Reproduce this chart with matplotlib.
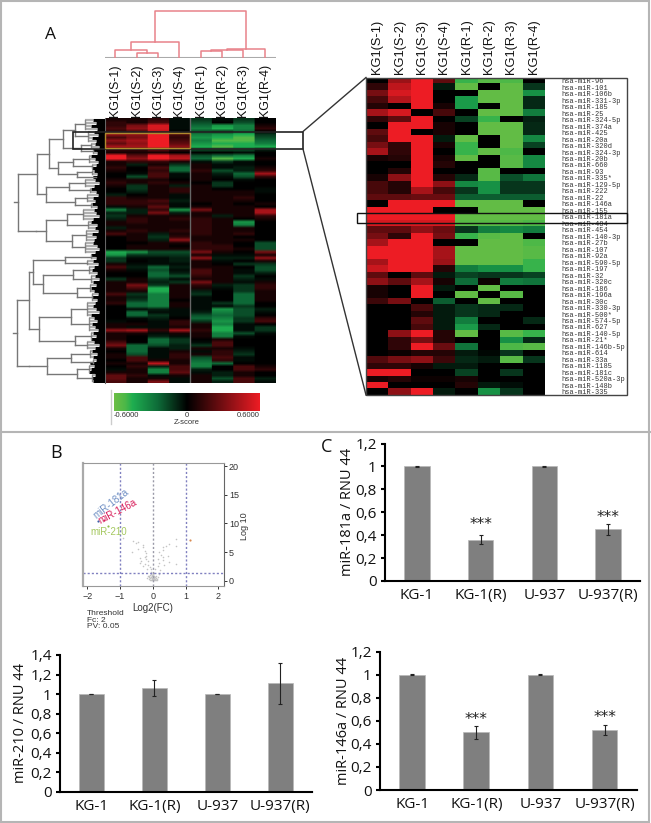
import numpy as np
import matplotlib
matplotlib.use('Agg')
import matplotlib.pyplot as plt
from matplotlib.colors import LinearSegmentedColormap
from matplotlib.patches import Rectangle

W, H = 651, 823

col_labels = ['KG1(S-1)', 'KG1(S-2)', 'KG1(S-3)', 'KG1(S-4)', 'KG1(R-1)', 'KG1(R-2)', 'KG1(R-3)', 'KG1(R-4)']

# heatmap values in tenths of the z-score range, read row by row
main_rows = [
    [1, 1, 2, -1, -3, -1, -3, 0], [2, 1, 3, -1, -4, 0, -4, 0], [2, 5, 9, -1, -5, -7, -6, 1],
    [3, 6, 9, -1, -6, -8, -6, 2], [2, 3, 8, 0, -4, -3, -5, 0], [6, 6, 10, 3, -6, -7, -8, -3],
    [3, 5, 10, 2, -7, -8, -9, -4], [6, 7, 10, 3, -6, -9, -9, -5], [4, 6, 10, 4, -7, -8, -8, -6],
    [7, 7, 10, 6, -8, -9, -8, -8], [2, 2, 4, 2, -4, -4, -4, -2], [1, 1, 1, 0, 0, 0, -1, 0],
    [10, 4, 10, 7, -4, -5, -6, 0], [10, 6, 10, 8, -5, -9, -8, 1], [1, 2, 2, 1, -1, -3, -1, 0],
    [1, -2, 1, -3, 1, -1, -1, 0], [2, 0, 3, -5, 1, -1, -2, 1], [1, 0, 2, -5, 2, -4, -2, 2],
    [0, -1, 3, -1, 1, -2, -5, 7], [0, -4, 3, -1, 1, -1, -4, 2], [1, 1, 1, 0, 1, 0, -1, 0],
    [2, 1, 2, 1, 0, -3, 0, 0], [1, -3, 1, -2, 1, -3, 0, 0], [0, -3, 1, 2, 1, 0, 0, -1],
    [0, -2, 1, 2, 1, 1, 1, -1], [-2, 0, 1, -1, 1, 1, 1, 0], [2, 1, 1, -1, 1, 1, 2, 0],
    [2, 2, 3, -2, 1, 1, 1, 0], [2, 2, 2, -1, 0, 1, 0, 1], [-1, 1, 4, -1, 1, 1, 1, 0],
    [-6, -2, 2, -7, 5, 1, 1, 7], [-2, -2, 5, -2, 1, 1, 1, 7], [-3, 1, 1, 1, 1, -2, 1, 2],
    [-2, 2, 1, 2, 2, 1, 0, 1], [1, 2, 1, 1, 2, 1, -7, 0], [1, 1, 1, 1, 2, 1, -6, 0],
    [-2, 1, 1, 1, 2, 1, 1, 0], [1, 2, 1, 2, 2, 1, 1, 0], [3, 1, -2, 1, 2, 1, 2, 0],
    [0, 1, -3, 2, 1, 1, 0, 0], [0, 1, -2, 6, 1, 1, 1, 0], [0, 0, 1, 1, 2, 1, 0, -4],
    [0, 1, 1, 0, 2, 2, 0, -4], [0, 1, 1, 1, 2, 2, 1, -4], [-8, -7, -4, -4, 5, 1, 0, 5],
    [-7, -3, -3, -3, 1, -1, -1, 1], [-3, -1, -1, -2, 6, -2, -2, 6], [-3, 0, -1, -2, 1, -1, 0, 1],
    [1, -1, -1, -1, 1, 0, -3, -3], [3, -2, -5, -2, 1, 1, 0, -4], [1, -1, -4, -1, 3, 1, -1, -4],
    [0, 0, -5, -2, 3, 1, -1, -2], [0, 0, -5, -4, 2, 1, -3, 0], [-3, 1, -3, -1, 1, 1, -2, -1],
    [1, 1, -2, -3, 5, 1, -1, 1], [1, 5, -3, 1, 2, -2, -3, 2], [1, 3, -8, 1, 1, -1, -3, 2],
    [1, 1, -8, 1, -2, 0, -3, 1], [3, -3, -6, 1, -3, 0, -5, 1], [1, -2, -6, 1, -1, 0, -5, 1],
    [1, -3, -6, 0, -1, 0, -5, 1], [2, -5, -6, 1, -1, -3, -5, 0], [0, -5, -6, 1, -1, -1, -3, 0],
    [0, -1, -2, -1, -1, -7, -4, -2], [0, -5, -1, -1, -2, -6, -4, -1], [0, -5, -3, -1, -4, -5, -4, 0],
    [0, -1, -2, 0, -5, -6, -3, 2], [-1, 0, -1, 2, -3, -7, -3, 3], [1, 1, -1, 2, 1, -6, -1, 0],
    [1, -1, -1, 1, 1, -8, -1, -3], [6, 7, 2, 7, 2, -8, -1, -3], [1, 1, -1, 1, 1, -6, -4, -1],
    [1, 0, -2, -1, 1, -6, -1, 0], [1, 0, -5, -3, 0, 1, 0, 0], [3, 0, -5, -3, -1, 3, 0, 0],
    [5, -5, -4, -2, -3, 3, 0, 0], [1, -5, -1, -2, 1, 1, -1, 0], [0, -5, -1, 1, -1, 2, -2, 0],
    [1, -4, -1, 2, 1, 2, -3, 0], [1, 3, -1, 2, -4, 3, -1, 0], [0, 3, 1, 1, -5, 2, -1, 0],
    [1, 1, 8, 1, -6, -5, 0, 0], [0, 2, -2, 3, -6, 0, 3, 1], [-1, 1, -6, 3, -2, 0, 3, 2],
    [1, 1, -6, 4, -1, -2, 1, 0], [4, 2, -1, 1, 1, -2, 1, 0], [4, 1, 1, -1, 1, -4, 3, -2],
    [3, 1, 5, -1, 1, -2, 3, -1],
]

mir_labels = ['96', '101', '106b', '331-3p', '185', '25', '324-5p', '374a', '425', '20a', '320d',
              '324-3p', '20b', '660', '93', '335*', '129-5p', '222', '22', '146a', '155', '181a',
              '484', '454', '140-3p', '27b', '107', '92a', '590-5p', '197', '32', '320c', '186',
              '196a', '30c', '330-3p', '500*', '574-5p', '627', '140-5p', '21*', '146b-5p', '614',
              '33a', '1185', '181c', '520a-3p', '148b', '335']

detail_rows = [
    [0, .65, 1, .4, -.8, -.9, -.85, 0], [.2, .8, 1, -.1, -.95, 0, -.95, -.2],
    [.5, .9, 1, 0, 0, -.95, -.95, -.6], [.3, .75, 1, 0, -.65, -.95, -.95, -.15],
    [.15, 0, 1, .1, -.65, 0, -.95, -.15], [.7, .9, 0, .3, 0, -.95, -.95, -.5],
    [.2, .4, 1, 0, -.25, -.8, 0, -.12], [0, 1, 1, .1, 0, -.95, -.95, -.15],
    [.4, 1, 0, .1, 0, -.95, -.95, -.15], [.3, 1, 1, -.1, -.95, 0, -.95, -.55],
    [.5, .2, 1, .1, -.8, 0, -.95, -.25], [.7, .2, 1, 0, -.8, -.95, -.85, 0],
    [.1, .15, 1, .1, -.95, 0, -.9, -.55], [0, 0, 1, .15, 0, 0, -.9, -.55],
    [0, .15, 1, 0, 0, -.9, 0, 0], [.1, .6, 1, .15, -.15, -.9, -.3, -.45],
    [.3, .15, 1, .6, -.55, -.6, -.2, -.2], [.3, .15, .7, .3, -.2, -.6, -.2, -.2],
    [.4, .4, .45, .45, -.35, -.35, -.35, -.35], [0, 1, 1, 1, -.95, -.95, -.95, 0],
    [1, 1, 1, 0, 0, -.95, -.95, -.95], [1, 1, 1, 1, -.95, -.95, -.95, -.95],
    [.9, .9, .9, .9, -.9, -.9, -.9, -.85], [.4, .4, .6, .45, -.2, -.5, -.55, -.5],
    [.5, .2, 1, .5, -.8, -.9, -.95, 0], [.7, 1, 1, 0, 0, -.95, -.95, -.85],
    [1, 1, 1, .7, -.95, -.95, -.95, -.9], [1, 1, 1, .7, -.95, -.95, -.95, -.9],
    [.7, 1, 1, .65, -.95, -.95, -.95, -.8], [.85, 1, 1, .15, -.5, -.6, -.6, -.8],
    [.4, 0, .4, -.1, -.25, -.2, -.2, -.25], [.6, .4, .7, .1, -.4, .05, -.5, -.45],
    [.1, 0, 1, -.1, 0, -.95, 0, 0], [.1, 0, 1, 0, -.95, 0, -.9, 0],
    [.25, .5, 0, -.35, 0, -.95, 0, 0], [0, 0, .3, -.1, -.2, -.15, -.15, 0],
    [0, 0, .15, -.1, -.2, -.15, 0, 0], [0, 0, .4, -.1, -.5, 0, 0, -.15],
    [0, 0, .3, -.1, -.65, -.15, 0, 0], [0, .6, 1, .15, -.95, 0, -.9, -.8],
    [0, .2, .5, .15, 0, 0, -.6, -.15], [0, .2, 1, .45, -.45, 0, -.85, -.9],
    [0, .05, .15, .15, -.1, -.03, -.2, 0], [.35, .5, .6, .25, -.15, -.1, -.9, -.2],
    [.2, .2, .1, -.1, -.1, 0, 0, 0], [1, 1, 0, 0, -.25, 0, -.2, 0],
    [.1, .15, .05, .05, .1, 0, 0, 0], [1, 0, 0, 0, .15, -.1, -.05, 0],
    [0, .6, 1, -.1, 0, -.6, -.2, 0],
]

# column tree: (height, left, right), leaves are column numbers
col_tree = (47, (15.7, (8, 0, (5, 1, 2)), 3), (8.7, (7.3, (6.7, 4, 5), 6), 7))

# row trees: (distance, upper, lower), leaves are (first row, last row, distance)
row_a = (42, (30, (0, 3, 20), (4, 7, 17)), (24, (8, 9, 14), (10, 11, 12)))
row_b = (47, (32, (12, 14, 16), (15, 16, 13)), (28, (17, 18, 13), (19, 19, 9)))
row_c = (59, (36, (20, 22, 20), (23, 24, 15)), (30, (25, 27, 18), (28, 29, 14)))
row_d = (59, (38, (30, 33, 22), (34, 36, 17)), (33, (37, 40, 19), (41, 44, 20)))
row_tree_top = (87, (68, (56, row_a, row_b), row_c), (69, row_d))
row_e = (72, (40, (45, 46, 14), (47, 48, 18)),
         (62, (32, (49, 51, 16), (52, 54, 14)), (28, (55, 57, 15), (58, 60, 13))))
row_f = (66, (34, (61, 65, 18), (66, 70, 16)), (30, (71, 73, 14), (74, 76, 18)))
row_g = (58, (34, (77, 79, 15), (80, 81, 12)), (28, (82, 84, 16), (85, 87, 13)))
row_tree_bottom = (88, (76, row_e, row_f), (76, row_g))
# where the black fringe starts for each row
row_fringe = [12, 9, 14, 8, 11, 7, 13, 9, 10, 6, 12, 8, 14, 10, 7, 9, 13, 11, 8, 12, 10, 6, 11, 14,
              9, 7, 12, 10, 13, 8, 11, 9, 6, 12, 14, 8, 10, 7, 13, 9, 11, 12, 8, 6, 10, 14, 9, 12,
              7, 11, 13, 8, 10, 6, 12, 9, 14, 11, 7, 13, 8, 10, 12, 9, 6, 14, 11, 8, 13, 10, 7, 12,
              9, 14, 11, 6, 10, 13, 8, 12, 9, 15, 11, 14, 16, 10, 13, 12]

volcano_x = [-.9, -.6, -.5, -.45, -.3, -.65, -.45, -.3, -.25, -.22, -.2, -.25, -.4, -.2, -.35, -.15, -.25,
             -.4, -.3, -.15, -.1, -.05, -.18, .7, .5, .4, .3, .3, .2, .25, .3, .45, .15, .3, .5, .2, .7,
             .7, .35, .15, .08, .22, 0, .05, -.05, .1, -.1, .02, -.02, .08, -.08, .12, -.12, .15, -.15,
             0, .05, -.05, .18, -.18, 0, .03, -.03, .06, -.06, .01, -.01, .04, -.04, .07, -.07, .02, -.02,
             .09, -.09, 0, .11, -.11, .03, -.03, .05, -.05, .13, -.13]
volcano_y = [7.4, 7, 6.6, 6.8, 6.3, 5, 5.5, 5.9, 5.2, 4.8, 4.4, 4.1, 4, 3.8, 3.5, 3.4, 3, 3.1, 2.6, 2.7,
             2.4, 2, 2.1, 7.3, 6.5, 6.1, 5.9, 5.4, 5, 4.5, 4.2, 4.3, 3.8, 3.6, 3.3, 3.1, 6.1, 2.9, 2.7,
             2.5, 2.1, 1.8, .2, .4, .6, .8, 1, 1.2, .1, .3, .5, .2, .3, .7, .9, .9, 1.4, 1.5, 1.1, .5,
             .5, .7, .8, .05, .15, .3, .45, .25, .35, .6, .7, 1, .95, .1, .2, .15, .55, .65, .05, .4,
             .85, 1.1, .35, .75]
mir181a_point = (-1.68, 10.5)
mir146a_point = (-1.5, 10.6)
mir210_point = (-1.36, 9.5)
up_point = (1.15, 7.2)

bar_labels = ['KG-1', 'KG-1(R)', 'U-937', 'U-937(R)']
mir181a_vals = [1, .36, 1, .45]
mir181a_err = [.003, .04, .003, .05]
mir210_vals = [1, 1.06, 1, 1.11]
mir210_err = [.003, .085, .003, .21]
mir146a_vals = [1, .5, 1, .52]
mir146a_err = [.003, .055, .003, .045]

cmap = LinearSegmentedColormap.from_list('zscore', [
    (0, '#6CBE45'), (.075, '#4DB848'), (.125, '#1FAE50'), (.3, '#0E6B38'), (.5, '#000000'), (1, '#ED1C24')])

fig = plt.figure(figsize=(W / 100, H / 100), dpi=100)


def px_axes(l, t, r, b, **kw):
    return fig.add_axes([l / W, 1 - b / H, (r - l) / W, (b - t) / H], **kw)


# panel A, greens are fainter in the overview than in the zoomed part
main_z = np.array(main_rows) / 10
main_z = np.where(main_z < 0, -np.abs(main_z) ** 1.35, main_z)
heat = px_axes(104.5, 118, 275.5, 383)
heat.imshow(np.repeat(main_z, 24, axis=1), aspect='auto', cmap=cmap, vmin=-1, vmax=1,
            interpolation='bilinear', extent=[-.5, 7.5, 87.5, -.5])
heat.xaxis.tick_top()
heat.set_xticks(range(8))
heat.set_xticklabels(col_labels, rotation=90, fontsize=9, family='Liberation Sans', color='#111111')
heat.set_yticks([])
heat.tick_params(length=0, pad=1)
heat.axvline(3.5, color='#666666', lw=1)
for s in heat.spines.values():
    s.set_visible(False)
heat.spines['left'].set_visible(True)
heat.spines['left'].set_color('#666666')

col_dend = px_axes(104.5, 5, 275.5, 57.5)
col_dend.set_xlim(-.5, 7.5)
col_dend.set_ylim(0, 52.5)
col_dend.axis('off')
col_dend.axhline(0, color='#aaaaaa', lw=1.5)


def draw_col(node):
    if not isinstance(node, tuple):
        return node, 0
    h, a, b = node
    xa, ha = draw_col(a)
    xb, hb = draw_col(b)
    col_dend.plot([xa, xa, xb, xb], [ha, h, h, hb], color='#E8828A', lw=1.1)
    return (xa + xb) / 2, h


draw_col(col_tree)

row_dend = px_axes(10, 118, 104.5, 383)
row_dend.set_xlim(94.5, 0)
row_dend.set_ylim(87.5, -.5)
row_dend.axis('off')


def draw_row(node):
    if len(node) == 3 and isinstance(node[1], int):
        a, b, d = node
        for r in range(a, b + 1):
            row_dend.plot([d, row_fringe[r]], [r, r], color='#b0b0b0', lw=1.6, solid_capstyle='butt')
            row_dend.plot([row_fringe[r], 0], [r, r], color='black', lw=2.2, solid_capstyle='butt')
        row_dend.plot([d, d], [a, b], color='#888888', lw=1)
        return (a + b) / 2, d
    d = node[0]
    ys = []
    for child in node[1:]:
        y, cd = draw_row(child)
        row_dend.plot([d, cd], [y, y], color='#777777', lw=1)
        ys.append(y)
    if len(ys) > 1:
        row_dend.plot([d, d], [min(ys), max(ys)], color='#777777', lw=1)
    return (min(ys) + max(ys)) / 2, d


for tree in [row_tree_top, row_tree_bottom]:
    y0, d0 = draw_row(tree)
    row_dend.plot([d0, d0 + 4], [y0, y0], color='#777777', lw=1)

detail = px_axes(366, 77.5, 545, 395)
detail.imshow(np.array(detail_rows), aspect='auto', cmap=cmap, vmin=-1, vmax=1, interpolation='nearest')
detail.xaxis.tick_top()
detail.set_xticks(range(8))
detail.set_xticklabels(col_labels, rotation=90, fontsize=9.2, family='Liberation Sans', color='#111111')
detail.yaxis.tick_right()
detail.set_yticks(range(len(mir_labels)))
detail.set_yticklabels(['hsa-miR-' + m for m in mir_labels], fontsize=5, family='Liberation Mono', color='#333333')
detail.tick_params(axis='x', length=0, pad=2.5)
detail.tick_params(axis='y', length=0, pad=11.5)
for s in detail.spines.values():
    s.set_visible(False)

cbar = px_axes(114, 393, 260, 411.5)
cbar.imshow(np.linspace(-1, 1, 256).reshape(1, -1), aspect='auto', cmap=cmap, vmin=-1, vmax=1,
            extent=[-.6, .6, 0, 1])
cbar.set_yticks([])
cbar.set_xticks([-.6, 0, .6])
cbar.set_xticklabels(['-0.6000', '0', '0.6000'], fontsize=5.5, family='Liberation Sans', color='#333333')
cbar.get_xticklabels()[0].set_ha('left')
cbar.get_xticklabels()[2].set_ha('right')
cbar.tick_params(length=0, pad=0.5)
cbar.set_xlabel('Z-score', fontsize=5.5, family='Liberation Sans', color='#333333', labelpad=0)
for s in cbar.spines.values():
    s.set_visible(False)

# panel B
vol = px_axes(82.5, 463, 223.5, 586)
vol.set_xlim(-2.15, 2.16)
vol.set_ylim(-.93, 20.58)
vol.scatter(volcano_x, volcano_y, s=1.3, color='#c4c4c4', linewidths=0)
vol.scatter(*mir181a_point, s=2.5, color='#3b5fa8', linewidths=0)
vol.scatter(*mir146a_point, s=2.5, color='#d81e5b', linewidths=0)
vol.scatter(*mir210_point, s=2.5, color='#8fbf4d', linewidths=0)
vol.scatter(*up_point, s=2.5, color='#d98a50', linewidths=0)
for xv, c in [(-1, '#8080c0'), (0, '#9a9aa8'), (1, '#8080c0')]:
    vol.axvline(xv, color=c, lw=1, ls=(0, (1.5, 1.5)))
vol.axhline(1.3, color='#8080c0', lw=1, ls=(0, (1.5, 1.5)))
vol.text(-1.28, 13.4, 'miR-181a', color='#6f8fc4', fontsize=7, rotation=38, ha='center', va='center',
         family='Liberation Sans')
vol.text(-1.08, 12.1, 'miR-146a', color='#d81e5b', fontsize=7, rotation=28, ha='center', va='center',
         family='Liberation Sans')
vol.text(-1.36, 8.5, 'miR-210', color='#a5c860', fontsize=7, ha='center', va='center', family='Liberation Sans')
vol.yaxis.tick_right()
vol.yaxis.set_label_position('right')
vol.set_xticks([-2, -1, 0, 1, 2])
vol.set_yticks([0, 5, 10, 15, 20])
vol.tick_params(labelsize=6.5, length=2.5, width=.7, pad=1.5, colors='#333333')
for lab in vol.get_xticklabels() + vol.get_yticklabels():
    lab.set_family('Liberation Sans')
vol.set_xlabel('Log2(FC)', fontsize=7, family='Liberation Sans', color='#333333', labelpad=2)
vol.set_ylabel('Log 10', fontsize=6.5, family='Liberation Sans', color='#333333', labelpad=-3)
vol.yaxis.set_label_coords(1.115, .49)
vol.spines['left'].set_color('#aaaaaa')
vol.spines['left'].set_linewidth(1.6)
vol.spines['top'].set_color('#999999')
vol.spines['bottom'].set_color('#999999')
vol.spines['right'].set_color('#666666')


def bar_panel(box, vals, err, ylabel, ymax, yticklabels, ylabel_x, stars=None):
    ax = px_axes(*box)
    x = np.arange(4)
    ax.bar(x, vals, width=.4, color='#7f7f7f', edgecolor='#b8b8b8', linewidth=.5,
           yerr=err, ecolor='#222222', error_kw=dict(lw=.8, capsize=1.5, capthick=.8))
    ax.set_xlim(-.5, 3.5)
    ax.set_ylim(0, ymax)
    ax.set_xticks(x)
    ax.set_xticklabels(bar_labels, fontsize=11, family='Open Sans', color='#111111')
    ax.set_xticks([-.5, .5, 1.5, 2.5, 3.5], minor=True)
    ax.tick_params(axis='x', which='major', length=0, pad=5)
    ax.tick_params(axis='x', which='minor', length=2, width=1.5, direction='inout')
    ax.set_yticks(np.arange(0, ymax + .01, .2))
    ax.set_yticklabels(yticklabels, fontsize=11, family='Open Sans', color='#111111')
    ax.tick_params(axis='y', length=3, width=1.5, pad=3)
    ax.set_ylabel(ylabel, fontsize=10.5, family='Open Sans', color='#111111')
    ax.yaxis.set_label_coords(ylabel_x, .5)
    for s in ['top', 'right']:
        ax.spines[s].set_visible(False)
    for s in ['left', 'bottom']:
        ax.spines[s].set_linewidth(1.5)
    if stars:
        for i, yv in stars:
            ax.text(i, yv, '***', fontsize=11, ha='center', va='center', family='DejaVu Sans', color='#222222')
    return ax


t12 = ['0', '0,2', '0,4', '0,6', '0,8', '1', '1,2']
t14 = t12 + ['1,4']
bar_panel((385, 443.5, 640, 581), mir181a_vals, mir181a_err, 'miR-181a / RNU 44', 1.2, t12, -.118,
          stars=[(1, .49), (3, .55)])
bar_panel((60, 655, 311.7, 791.7), mir210_vals, mir210_err, 'miR-210 / RNU 44', 1.4, t14, -.127)
bar_panel((380, 651.7, 636.7, 790), mir146a_vals, mir146a_err, 'miR-146a / RNU 44', 1.2, t12, -.114,
          stars=[(1, .61), (3, .63)])

# frames, connectors and letters in pixel coordinates
over = fig.add_axes([0, 0, 1, 1], zorder=10)
over.set_xlim(0, W)
over.set_ylim(H, 0)
over.axis('off')
over.patch.set_alpha(0)
over.add_patch(Rectangle((1, .5), W - 3, H - 2, fill=False, ec='#b5b5b5', lw=1.5))
over.plot([0, W], [431.5, 431.5], color='#b5b5b5', lw=1.5)
over.add_patch(Rectangle((366, 77.5), 261, 317.5, fill=False, ec='#444444', lw=1))
over.add_patch(Rectangle((357, 212.7), 270, 10, fill=False, ec='#111111', lw=1))
over.add_patch(Rectangle((73, 131.5), 230, 17.5, fill=False, ec='#222222', lw=1.2))
over.add_patch(Rectangle((104.5, 133), 85, 15, fill=False, ec='#b08a2e', lw=1))
over.plot([303, 366], [131.5, 77.5], color='#333333', lw=1)
over.plot([303, 366], [149, 395], color='#333333', lw=1)
over.plot([110.5, 110.5], [390, 424], color='#cccccc', lw=1)
over.text(50.5, 35, 'A', fontsize=12.5, ha='center', va='center', family='Open Sans', color='#111111')
over.text(56, 453, 'B', fontsize=13, ha='center', va='center', family='Open Sans', color='#111111')
over.text(326.7, 447, 'C', fontsize=13, ha='center', va='center', family='Open Sans', color='#111111')
for y, s in [(613.5, 'Threshold'), (620, 'Fc: 2'), (626.5, 'PV: 0.05')]:
    over.text(87, y, s, fontsize=6, ha='left', va='center', family='Liberation Sans', color='#333333')

fig.savefig('out.png', dpi=100)
